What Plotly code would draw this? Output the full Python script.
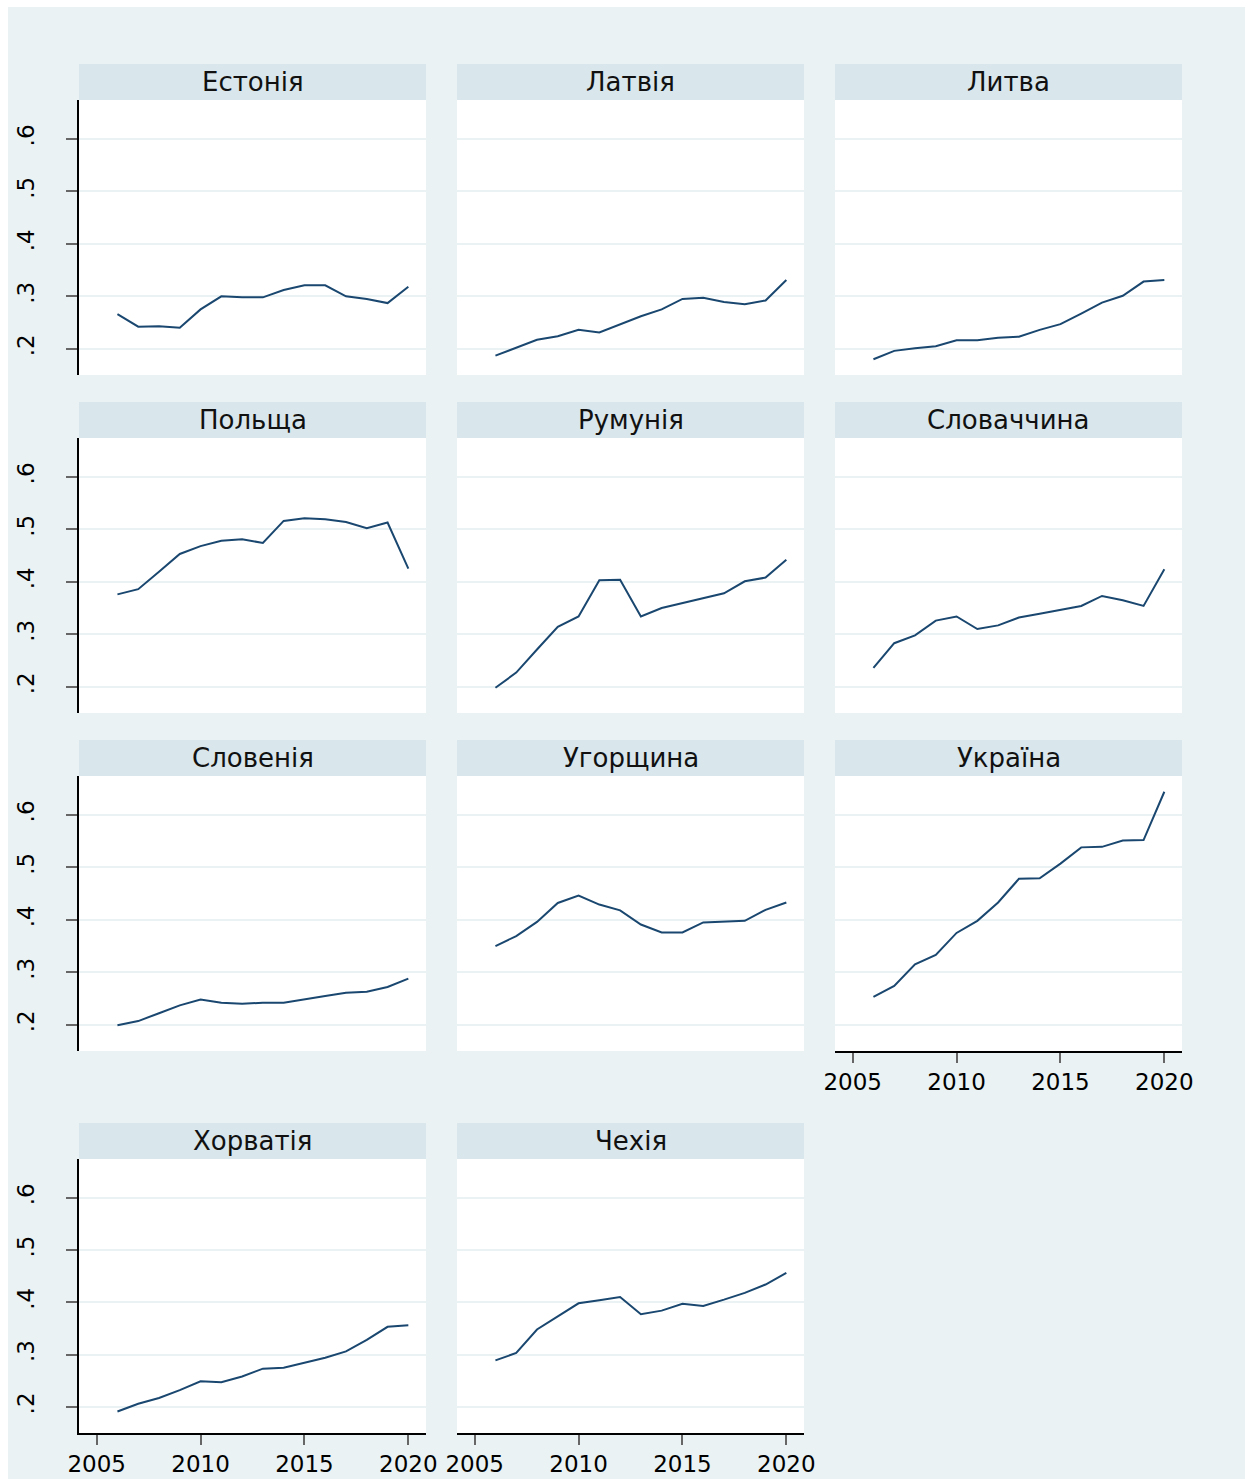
import plotly.graph_objects as go

# Years covered by every series
years = list(range(2006, 2021))

# Panel titles (in drawing order)
countries = ["Естонія", "Латвія", "Литва", "Польща", "Румунія", "Словаччина",
             "Словенія", "Угорщина", "Україна", "Хорватія", "Чехія"]

estonia = [0.266, 0.242, 0.243, 0.240, 0.275, 0.300, 0.298, 0.298, 0.312, 0.321, 0.321, 0.300, 0.295, 0.287, 0.318]
latvia = [0.187, 0.202, 0.217, 0.224, 0.236, 0.231, 0.247, 0.262, 0.275, 0.295, 0.297, 0.289, 0.285, 0.292, 0.331]
lithuania = [0.180, 0.196, 0.201, 0.205, 0.216, 0.216, 0.221, 0.223, 0.236, 0.247, 0.267, 0.288, 0.301, 0.328, 0.331]
poland = [0.376, 0.386, 0.419, 0.453, 0.468, 0.478, 0.481, 0.474, 0.516, 0.521, 0.519, 0.514, 0.502, 0.513, 0.425]
romania = [0.198, 0.227, 0.271, 0.314, 0.334, 0.403, 0.404, 0.334, 0.350, 0.359, 0.368, 0.378, 0.401, 0.408, 0.442]
slovakia = [0.236, 0.283, 0.298, 0.326, 0.334, 0.310, 0.317, 0.332, 0.339, 0.346, 0.354, 0.373, 0.365, 0.354, 0.424]
slovenia = [0.199, 0.207, 0.222, 0.237, 0.248, 0.242, 0.240, 0.242, 0.242, 0.249, 0.255, 0.261, 0.263, 0.272, 0.288]
hungary = [0.350, 0.369, 0.396, 0.432, 0.446, 0.429, 0.418, 0.391, 0.376, 0.376, 0.395, 0.397, 0.398, 0.419, 0.433]
ukraine = [0.253, 0.274, 0.315, 0.333, 0.375, 0.398, 0.433, 0.478, 0.479, 0.507, 0.538, 0.539, 0.551, 0.552, 0.644]
croatia = [0.191, 0.206, 0.217, 0.232, 0.249, 0.247, 0.258, 0.273, 0.275, 0.284, 0.294, 0.306, 0.328, 0.353, 0.356]
czechia = [0.289, 0.303, 0.348, 0.373, 0.398, 0.404, 0.410, 0.377, 0.384, 0.397, 0.393, 0.405, 0.418, 0.434, 0.456]

series = [estonia, latvia, lithuania, poland, romania, slovakia,
          slovenia, hungary, ukraine, croatia, czechia]

y_ticks = [0.2, 0.3, 0.4, 0.5, 0.6]
y_tick_text = [".2", ".3", ".4", ".5", ".6"]
x_ticks = [2005, 2010, 2015, 2020]

W, H = 1248, 1479
BG = "#EAF2F3"
STRIP = "#D9E6EB"
LINE = "#1A476F"
FONT = "DejaVu Sans"

col_px = [(79, 426), (457, 804), (835, 1182)]
row_px = [(100, 375), (438, 713), (776, 1051), (1159, 1433)]
strip_h = 36

# panels that carry the x axis labels
x_axis_panels = {8, 9, 10}

fig = go.Figure()
layout = dict(
    width=W, height=H, autosize=False,
    margin=dict(l=0, r=0, t=0, b=0, pad=0, autoexpand=False),
    paper_bgcolor=BG, plot_bgcolor="white",
    showlegend=False,
    shapes=[], annotations=[],
    font=dict(family=FONT, color="black"),
)

for i, (name, vals) in enumerate(zip(countries, series)):
    r, c = divmod(i, 3)
    x0, x1 = col_px[c]
    y0, y1 = row_px[r]
    k = i + 1
    xa = "xaxis" if k == 1 else f"xaxis{k}"
    ya = "yaxis" if k == 1 else f"yaxis{k}"
    xr = "x" if k == 1 else f"x{k}"
    yr = "y" if k == 1 else f"y{k}"

    fig.add_trace(go.Scatter(x=years, y=vals, mode="lines",
                             line=dict(color=LINE, width=2),
                             xaxis=xr, yaxis=yr, hoverinfo="skip"))

    show_x = i in x_axis_panels
    layout[xa] = dict(
        domain=[x0 / W, x1 / W], anchor=yr, automargin=False,
        range=[2004.15, 2020.85],
        tickvals=x_ticks, showgrid=False, zeroline=False,
        showticklabels=show_x,
        ticks="outside" if show_x else "", ticklen=10, tickwidth=1.5, tickcolor="#666666",
        showline=show_x, linecolor="black", linewidth=1.5,
        tickfont=dict(family=FONT, size=23, color="black"),
    )
    left = c == 0
    layout[ya] = dict(
        domain=[1 - y1 / H, 1 - y0 / H], anchor=xr, automargin=False,
        range=[0.150, 0.674],
        tickvals=y_ticks, ticktext=y_tick_text,
        showgrid=True, gridcolor=BG, gridwidth=2, zeroline=False,
        showticklabels=left, tickangle=-90,
        ticks="outside" if left else "", ticklen=11, tickwidth=1.5, tickcolor="#666666",
        showline=left, linecolor="black", linewidth=1.5,
        tickfont=dict(family=FONT, size=23, color="black"),
        ticklabelstandoff=23,
    )

    # title strip
    layout["shapes"].append(dict(
        type="rect", xref="paper", yref="paper",
        x0=x0 / W, x1=x1 / W, y0=1 - y0 / H, y1=1 - (y0 - strip_h) / H,
        fillcolor=STRIP, line=dict(width=0), layer="below"))
    layout["annotations"].append(dict(
        text=name, xref="paper", yref="paper",
        x=(x0 + x1) / 2 / W, y=1 - (y0 - strip_h / 2) / H,
        xanchor="center", yanchor="middle", showarrow=False,
        font=dict(family=FONT, size=26, color="#111111")))

# thin white frame around the graph region
for s in [dict(x0=0, x1=W, y0=0, y1=7), dict(x0=0, x1=8, y0=0, y1=H),
          dict(x0=1245, x1=W, y0=0, y1=H)]:
    layout["shapes"].append(dict(
        type="rect", xref="paper", yref="paper",
        x0=s["x0"] / W, x1=s["x1"] / W, y0=1 - s["y1"] / H, y1=1 - s["y0"] / H,
        fillcolor="white", line=dict(width=0), layer="below"))

fig.update_layout(**layout)
fig.write_html("out.html", config={"responsive": False})
